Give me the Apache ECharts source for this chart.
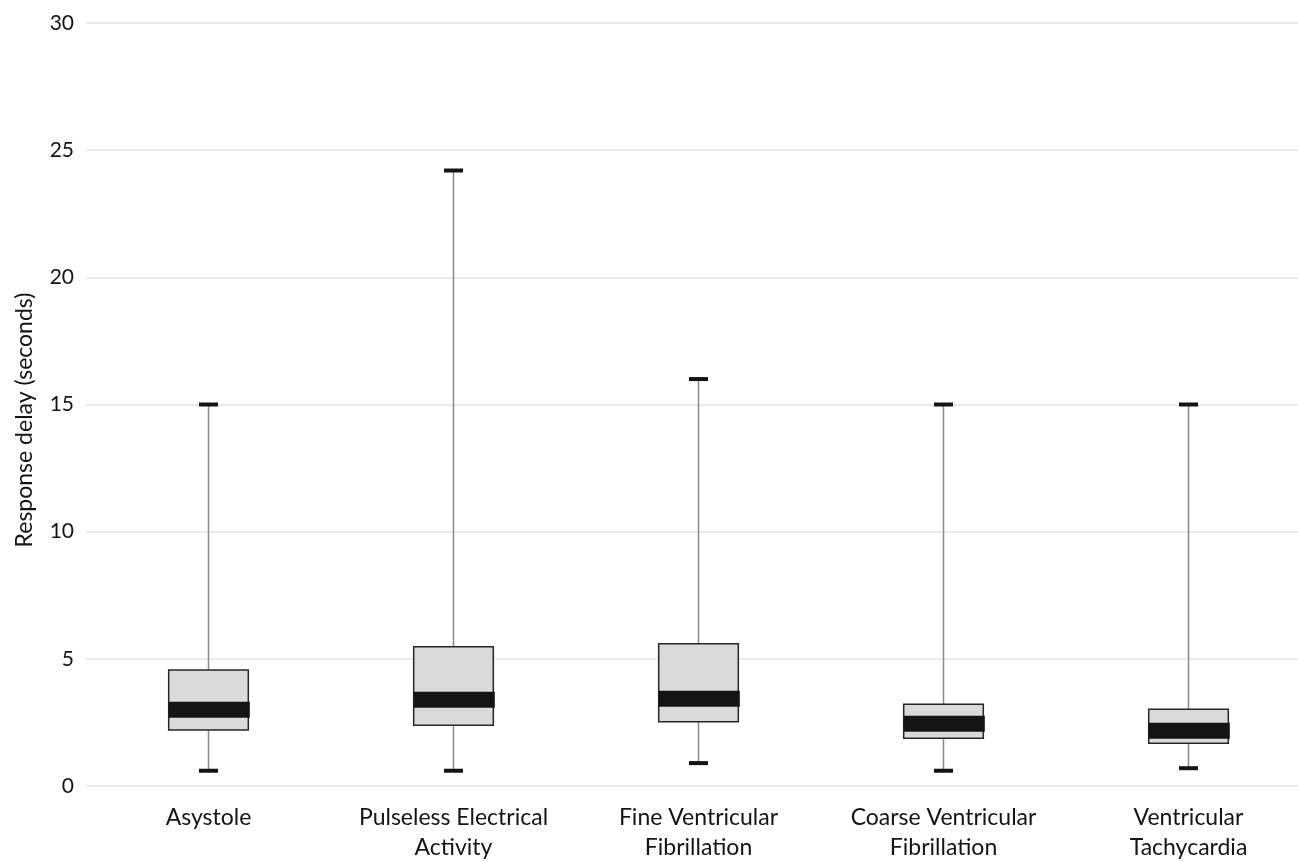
<!DOCTYPE html>
<html>
<head>
<meta charset="utf-8">
<script src="https://cdn.jsdelivr.net/npm/echarts@6/dist/echarts.min.js"></script>
<style>
html,body{margin:0;padding:0;background:#fff;}
#chart{width:1298px;height:861px;}
</style>
</head>
<body>
<div id="chart"></div>
<script>
const categories = ['Asystole', 'Pulseless Electrical\nActivity', 'Fine Ventricular\nFibrillation', 'Coarse Ventricular\nFibrillation', 'Ventricular\nTachycardia'];
const minValues    = [0.6, 0.6, 0.9, 0.6, 0.7];
const q1Values     = [2.2, 2.39, 2.53, 1.88, 1.68];
const medianValues = [3.0, 3.39, 3.43, 2.45, 2.17];
const q3Values     = [4.56, 5.48, 5.59, 3.21, 3.02];
const maxValues    = [15, 24.2, 16, 15, 15];
const yTicks = [0, 5, 10, 15, 20, 25, 30];

const data = categories.map((c, i) => [i, minValues[i], q1Values[i], medianValues[i], q3Values[i], maxValues[i]]);

const FONT = 'Lato';
const chart = echarts.init(document.getElementById('chart'));
chart.setOption({
  animation: false,
  backgroundColor: '#fff',
  grid: { left: 86, top: 23, bottom: 75, width: 1225, outerBoundsMode: 'none', containLabel: false },
  xAxis: {
    type: 'category',
    data: categories,
    axisLine: { show: false },
    axisTick: { show: false },
    axisLabel: { color: '#141414', fontFamily: FONT, fontSize: 23, lineHeight: 30, margin: 17, interval: 0 }
  },
  yAxis: {
    type: 'value',
    min: yTicks[0],
    max: yTicks[yTicks.length - 1],
    interval: 5,
    name: 'Response delay (seconds)',
    nameLocation: 'middle',
    nameGap: 50,
    nameTextStyle: { color: '#141414', fontFamily: FONT, fontSize: 23, padding: [0, 31, 0, 0] },
    axisLine: { show: false },
    axisTick: { show: false },
    axisLabel: { color: '#141414', fontFamily: FONT, fontSize: 21, margin: 12 },
    splitLine: { lineStyle: { color: '#e4e4e4', width: 1.5 } }
  },
  series: [{
    type: 'custom',
    data: data,
    encode: { x: 0, y: [1, 2, 3, 4, 5] },
    renderItem: function (params, api) {
      const idx = api.value(0);
      const band = api.size([1, 0])[0];
      const boxW = band * 0.325;
      const pMin = api.coord([idx, api.value(1)]);
      const pQ1 = api.coord([idx, api.value(2)]);
      const pMed = api.coord([idx, api.value(3)]);
      const pQ3 = api.coord([idx, api.value(4)]);
      const pMax = api.coord([idx, api.value(5)]);
      const cx = pMed[0];
      const capW = 19, capH = 4, medH = 16;
      return {
        type: 'group',
        children: [
          { type: 'line', shape: { x1: cx, y1: pQ3[1], x2: cx, y2: pMax[1] }, style: { stroke: '#8a8a8a', lineWidth: 1.5 } },
          { type: 'line', shape: { x1: cx, y1: pQ1[1], x2: cx, y2: pMin[1] }, style: { stroke: '#8a8a8a', lineWidth: 1.5 } },
          { type: 'rect', shape: { x: cx - boxW / 2, y: pQ3[1], width: boxW, height: pQ1[1] - pQ3[1] }, style: { fill: '#dadada', stroke: '#262626', lineWidth: 1.5 } },
          { type: 'rect', shape: { x: cx - boxW / 2, y: pMed[1] - medH / 2, width: boxW + 1.5, height: medH }, style: { fill: '#141414' } },
          { type: 'rect', shape: { x: cx - capW / 2, y: pMax[1] - capH / 2, width: capW, height: capH }, style: { fill: '#141414' } },
          { type: 'rect', shape: { x: cx - capW / 2, y: pMin[1] - capH / 2, width: capW, height: capH }, style: { fill: '#141414' } }
        ]
      };
    }
  }]
});
</script>
</body>
</html>
